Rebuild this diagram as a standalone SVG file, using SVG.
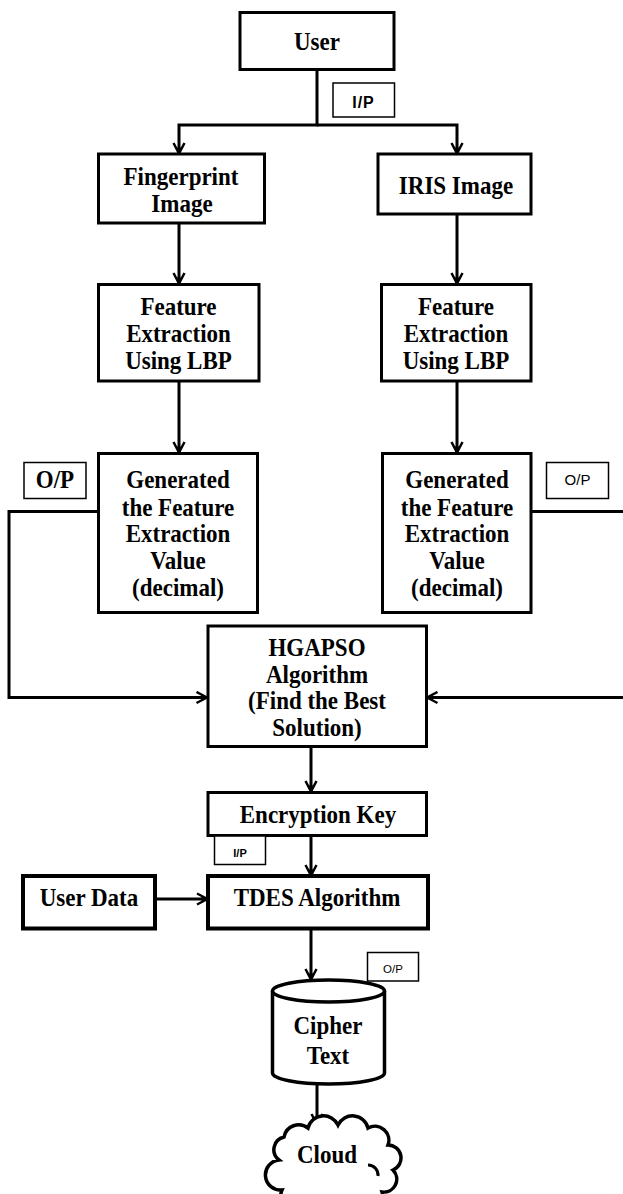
<svg xmlns="http://www.w3.org/2000/svg" width="623" height="1194" viewBox="0 0 623 1194">
<defs>
<style>
.box{fill:#fff;stroke:#000;stroke-width:3}
.boxb{fill:#fff;stroke:#000;stroke-width:4}
.tag{fill:#fff;stroke:#000;stroke-width:1.5}
.t{font-family:"Liberation Serif","Times New Roman",serif;font-weight:bold;font-size:23px;text-anchor:middle;fill:#000;transform-box:fill-box;transform-origin:center;transform:scaleY(1.1)}
.ts{font-family:"Liberation Sans",Arial,sans-serif;text-anchor:middle;fill:#000}
.c{fill:none;stroke:#000;stroke-width:3}
</style>
<marker id="ah" viewBox="0 0 14 14" markerUnits="userSpaceOnUse" markerWidth="14" markerHeight="14" refX="12.5" refY="7" orient="auto">
<path d="M1.5,1.5 L12,7 L1.5,12.5" fill="none" stroke="#000" stroke-width="2.5"/>
<path d="M6,4.5 L13,7 L6,9.5 Z" fill="#000"/>
</marker>
</defs>
<g id="connectors">
<path class="c" d="M317,69 V125 H179 V154" marker-end="url(#ah)"/>
<path class="c" d="M317,125 H457 V154" marker-end="url(#ah)" stroke-width="3.5"/>
<path class="c" d="M179,223 V284" marker-end="url(#ah)"/>
<path class="c" d="M457,214 V284" marker-end="url(#ah)" stroke-width="4"/>
<path class="c" d="M179,381 V453" marker-end="url(#ah)"/>
<path class="c" d="M457,381 V453" marker-end="url(#ah)" stroke-width="4"/>
<path class="c" d="M98.5,511.5 H9 V697.5 H207.5" marker-end="url(#ah)"/>
<path class="c" d="M531,511.5 H630"/>
<path class="c" d="M630,697.5 H426.5" marker-end="url(#ah)" stroke-width="3.5"/>
<path class="c" d="M311,747 V792" marker-end="url(#ah)" stroke-width="3.5"/>
<path class="c" d="M311,836 V876" marker-end="url(#ah)" stroke-width="4"/>
<path class="c" d="M155,899 H208" marker-end="url(#ah)"/>
<path class="c" d="M311,928 V980" marker-end="url(#ah)" stroke-width="4"/>
<path class="c" d="M317,1084 V1125" marker-end="url(#ah)"/>
</g>
<g id="user">
<rect class="box" x="240" y="12.5" width="154" height="57"/>
<text class="t" x="317" y="49">User</text>
</g>
<g id="ip-top">
<rect class="tag" x="333" y="83" width="61.5" height="34"/>
<text class="ts" x="363.5" y="108" font-size="16" font-weight="bold" letter-spacing="1">I/P</text>
</g>
<g id="fingerprint">
<rect class="box" x="98.5" y="154" width="166" height="69"/>
<text class="t" x="181" y="184.5">Fingerprint</text>
<text class="t" x="182" y="211">Image</text>
</g>
<g id="iris">
<rect class="box" x="378" y="154" width="153" height="60"/>
<text class="t" x="456" y="193.5">IRIS Image</text>
</g>
<g id="lbp-left">
<rect class="box" x="98.5" y="284.5" width="160.5" height="96.5"/>
<text class="t" x="178.5" y="314">Feature</text>
<text class="t" x="178.5" y="341">Extraction</text>
<text class="t" x="178.5" y="368">Using LBP</text>
</g>
<g id="lbp-right">
<rect class="box" x="381.5" y="284.5" width="149.5" height="96.5"/>
<text class="t" x="456" y="314">Feature</text>
<text class="t" x="456" y="341">Extraction</text>
<text class="t" x="456" y="368">Using LBP</text>
</g>
<g id="gen-left">
<rect class="box" x="98.5" y="453.5" width="159" height="159"/>
<text class="t" x="178" y="487.5">Generated</text>
<text class="t" x="178" y="515.5">the Feature</text>
<text class="t" x="178" y="541">Extraction</text>
<text class="t" x="178" y="568">Value</text>
<text class="t" x="178" y="595">(decimal)</text>
</g>
<g id="op-left">
<rect class="tag" x="24" y="462.5" width="62" height="36"/>
<text class="t" x="55" y="487" font-size="19">O/P</text>
</g>
<g id="gen-right">
<rect class="box" x="382.5" y="453.5" width="148.5" height="159"/>
<text class="t" x="457" y="487.5">Generated</text>
<text class="t" x="457" y="515.5">the Feature</text>
<text class="t" x="457" y="541">Extraction</text>
<text class="t" x="457" y="568">Value</text>
<text class="t" x="457" y="595">(decimal)</text>
</g>
<g id="op-right">
<rect class="tag" x="546.5" y="462.5" width="62" height="36"/>
<text class="ts" x="577.5" y="485" font-size="15">O/P</text>
</g>
<g id="hgapso">
<rect class="box" x="208" y="626" width="218.5" height="120.5"/>
<text class="t" x="317" y="655">HGAPSO</text>
<text class="t" x="317" y="682">Algorithm</text>
<text class="t" x="317" y="708.5">(Find the Best</text>
<text class="t" x="317" y="735">Solution)</text>
</g>
<g id="enc-key">
<rect class="box" x="208" y="792.5" width="218.5" height="43"/>
<text class="t" x="318" y="822.5">Encryption Key</text>
</g>
<g id="ip-bottom">
<rect class="tag" x="214.5" y="836" width="51" height="28.5"/>
<text class="ts" x="240" y="856.5" font-size="11" font-weight="bold">I/P</text>
</g>
<g id="user-data">
<rect class="boxb" x="23" y="876" width="132" height="52.5"/>
<text class="t" x="89" y="905">User Data</text>
</g>
<g id="tdes">
<rect class="boxb" x="208" y="876" width="220" height="52.5"/>
<text class="t" x="317" y="905">TDES Algorithm</text>
</g>
<g id="op-bottom">
<rect class="tag" x="367.5" y="952.5" width="51" height="28.5"/>
<text class="ts" x="393" y="973" font-size="11.5">O/P</text>
</g>
<g id="cipher">
<path d="M272.5,991 V1073 A56,11 0 0 0 384.5,1073 V991" fill="#fff" stroke="#000" stroke-width="3.5"/>
<ellipse cx="328.5" cy="991" rx="56" ry="11" fill="#fff" stroke="#000" stroke-width="3.5"/>
<text class="t" x="328" y="1033">Cipher</text>
<text class="t" x="328" y="1063">Text</text>
</g>
<g id="cloud">
<path d="M279,1160 A13,13 0 0 1 284,1137 A15,15 0 0 1 308,1128 A16,16 0 0 1 338,1125 A16,16 0 0 1 368,1128 A14,14 0 0 1 388,1145 A13,13 0 0 1 393,1170 A13,13 0 0 1 382,1192 A16,16 0 0 1 352,1203 A16,16 0 0 1 310,1202 A15,15 0 0 1 282,1190 A13,13 0 0 1 279,1160 Z" fill="#fff" stroke="#000" stroke-width="3.5"/>
<path d="M368,1165 A10,10 0 0 1 378,1176" fill="none" stroke="#000" stroke-width="3"/>
<text class="t" x="327" y="1162">Cloud</text>
</g>
</svg>
